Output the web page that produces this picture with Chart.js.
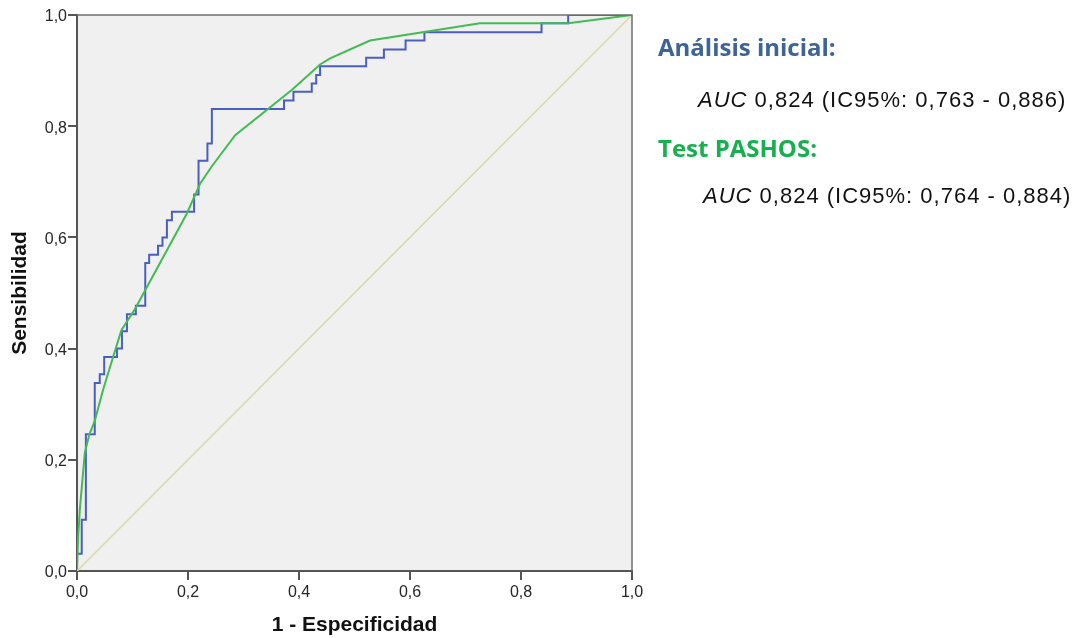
<!DOCTYPE html>
<html>
<head>
<meta charset="utf-8">
<script src="https://cdn.jsdelivr.net/npm/chart.js@4"></script>
<style>
  html, body { margin: 0; padding: 0; background: #fff; }
  #wrap { position: relative; width: 1075px; height: 638px; }
  .side { position: absolute; white-space: nowrap; line-height: 30px; }
  .head { font-family: "Open Sans", "Lato", sans-serif; font-weight: bold; font-size: 24px; }
  .auc { font-family: "Liberation Sans", Arial, sans-serif; font-size: 22px; letter-spacing: 1px; color: #111; }
</style>
</head>
<body>
<div id="wrap">
  <canvas id="roc" width="1075" height="638"></canvas>
  <div class="side head" style="left:658px; top:32px; color:#3e6396;">Análisis inicial:</div>
  <div class="side auc" style="left:698px; top:85px;"><i>AUC</i> 0,824 (IC95%: 0,763 - 0,886)</div>
  <div class="side head" style="left:658px; top:133px; color:#17b04f;">Test PASHOS:</div>
  <div class="side auc" style="left:703px; top:181px;"><i>AUC</i> 0,824 (IC95%: 0,764 - 0,884)</div>
</div>
<script>
// ROC step curve, initial analysis (1 - specificity, sensitivity)
const inicialFpr = [0, 0, 0.0085, 0.016, 0.032, 0.041, 0.049, 0.072, 0.081, 0.090, 0.106, 0.123, 0.130, 0.146, 0.154, 0.162, 0.171, 0.211, 0.219, 0.235, 0.243, 0.373, 0.390, 0.423, 0.431, 0.438, 0.521, 0.553, 0.592, 0.626, 0.837, 0.885, 1.0];
const inicialTpr = [0, 0.031, 0.092, 0.246, 0.338, 0.354, 0.385, 0.400, 0.431, 0.462, 0.477, 0.554, 0.569, 0.585, 0.600, 0.631, 0.646, 0.677, 0.738, 0.769, 0.831, 0.846, 0.862, 0.877, 0.892, 0.908, 0.923, 0.938, 0.954, 0.969, 0.985, 1.0, 1.0];

// ROC curve, PASHOS test
const pashosFpr = [0, 0.002, 0.005, 0.009, 0.014, 0.022, 0.032, 0.047, 0.065, 0.080, 0.105, 0.198, 0.222, 0.243, 0.285, 0.387, 0.438, 0.456, 0.528, 0.726, 0.885, 1.0];
const pashosTpr = [0, 0.06, 0.11, 0.155, 0.212, 0.245, 0.27, 0.326, 0.385, 0.433, 0.472, 0.643, 0.697, 0.728, 0.784, 0.865, 0.911, 0.922, 0.954, 0.985, 0.985, 1.0];

const refLine = [0, 1];
const tickValues = [0, 0.2, 0.4, 0.6, 0.8, 1.0];

const toPts = (xs, ys) => xs.map((x, i) => ({ x: x, y: ys[i] }));
const fmt = v => Number(v).toFixed(1).replace('.', ',');

const plotFrame = {
    id: 'plotFrame',
    beforeDraw(chart) {
        const { ctx, chartArea: a } = chart;
        ctx.save();
        ctx.fillStyle = '#f0f0f0';
        ctx.fillRect(a.left, a.top, a.right - a.left, a.bottom - a.top);
        ctx.restore();
    },
    afterDraw(chart) {
        const { ctx, chartArea: a } = chart;
        ctx.save();
        ctx.strokeStyle = '#6e6e6e';
        ctx.lineWidth = 1.5;
        ctx.beginPath();
        ctx.moveTo(a.left, a.top);
        ctx.lineTo(a.right, a.top);
        ctx.lineTo(a.right, a.bottom);
        ctx.stroke();
        ctx.restore();
    }
};

new Chart(document.getElementById('roc'), {
    type: 'scatter',
    data: {
        datasets: [
            {
                data: toPts(refLine, refLine),
                showLine: true,
                borderColor: '#d9d9a3',
                borderWidth: 1.5,
                pointRadius: 0
            },
            {
                data: toPts(pashosFpr, pashosTpr),
                showLine: true,
                borderColor: '#42bb52',
                borderWidth: 2,
                pointRadius: 0
            },
            {
                data: toPts(inicialFpr, inicialTpr),
                showLine: true,
                stepped: 'before',
                borderColor: '#4a5ec2',
                borderWidth: 2,
                pointRadius: 0
            }
        ]
    },
    options: {
        responsive: false,
        animation: false,
        layout: { padding: { top: 15, right: 443, left: 0, bottom: 0 } },
        plugins: { legend: { display: false }, tooltip: { enabled: false } },
        scales: {
            x: {
                type: 'linear',
                min: 0, max: 1,
                afterFit: s => { s.height = 67; },
                afterBuildTicks: s => { s.ticks = tickValues.map(v => ({ value: v })); },
                grid: { drawOnChartArea: false, drawTicks: true, tickLength: 9, color: '#555', lineWidth: 2 },
                border: { color: '#555', width: 2 },
                ticks: { color: '#262626', font: { family: 'Liberation Sans', size: 16 }, padding: 3, callback: fmt, maxRotation: 0 },
                title: { display: true, text: '1 - Especificidad', color: '#111', font: { family: 'Liberation Sans', size: 21, weight: 'bold' }, padding: { top: 0, bottom: 0 } }
            },
            y: {
                type: 'linear',
                min: 0, max: 1,
                afterFit: s => { s.width = 77; },
                afterBuildTicks: s => { s.ticks = tickValues.map(v => ({ value: v })); },
                grid: { drawOnChartArea: false, drawTicks: true, tickLength: 9, color: '#555', lineWidth: 2 },
                border: { color: '#555', width: 2 },
                ticks: { color: '#262626', font: { family: 'Liberation Sans', size: 16 }, padding: 1, labelOffset: 2, callback: fmt },
                title: { display: true, text: 'Sensibilidad', color: '#111', font: { family: 'Liberation Sans', size: 21, weight: 'bold' }, padding: { top: 8 } }
            }
        }
    },
    plugins: [plotFrame]
});
</script>
</body>
</html>
